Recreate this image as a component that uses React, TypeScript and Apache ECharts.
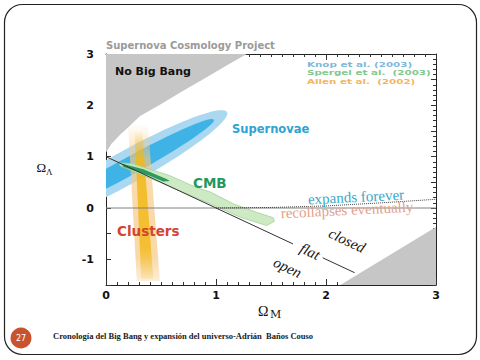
import React, { useEffect, useRef } from 'react';
import * as echarts from 'echarts';

// ---- data ----
const xRange = [0, 3];
const yRange = [-1.5, 3];
const xTickInterval = 1;
const yTickInterval = 0.5;

const noBigBangCurve = [
  [0, 1.08], [0.05, 1.25], [0.13, 1.43], [0.2, 1.57], [0.31, 1.79],
  [0.49, 2.01], [0.69, 2.27], [0.9, 2.53], [1.1, 2.78], [1.28, 3.0],
];
const noBigBangCorner = [0, 3];
const ageLimitRegion = [[2.13, -1.5], [3, -0.37], [3, -1.5]];

// ellipse: centre x, centre y, tip x, tip y, vertical half-thickness
const supernovaOuter = [0.2, 0.8, 1.1, 1.87, 0.37];
const supernovaInner = [0.2, 0.8, 0.98, 1.72, 0.2];

const clusterOuter = [[0.2, 1.65], [0.38, 1.65], [0.49, -1.42], [0.28, -1.42]];
const clusterCore = [[0.26, 1.5], [0.33, 1.5], [0.43, -1.38], [0.32, -1.38]];

const cmbOuter = [
  [0.12, 0.88], [0.25, 0.86], [0.58, 0.63], [0.82, 0.4], [0.95, 0.31],
  [1.16, 0.08], [1.37, -0.085], [1.52, -0.19], [1.53, -0.26], [1.46, -0.34],
  [1.22, -0.18], [0.95, 0.08], [0.49, 0.5], [0.13, 0.82],
];
const cmbInner = [
  [0.14, 0.865], [0.34, 0.755], [0.55, 0.565], [0.58, 0.525],
  [0.52, 0.515], [0.4, 0.625], [0.16, 0.8],
];

const flatLineUpper = [[0, 1], [1.7, -0.7]];
const flatLineLower = [[1.97, -0.97], [2.26, -1.26]];
const zeroLine = [[0, 0], [3, 0]];
const recollapseBoundary = [[1, 0], [1.5, 0.01], [2, 0.04], [2.5, 0.1], [3, 0.17]];

const titleText = 'Supernova Cosmology Project';
const legendLabels = ['Knop et al. (2003)', 'Spergel et al.  (2003)', 'Allen et al.  (2002)'];
const legendColors = ['#7db9d9', '#82c88f', '#f2b65e'];
const footerText = 'Cronología del Big Bang y expansión del universo-Adrián  Baños Couso';
const pageNumber = '27';

// ---- helpers ----
const polygonSeries = (pts: number[][], style: any) => ({
  type: 'custom',
  coordinateSystem: 'cartesian2d',
  xAxisIndex: 0,
  yAxisIndex: 0,
  clip: true,
  silent: true,
  data: [pts[0]],
  renderItem: (_p: any, api: any) => ({
    type: 'polygon',
    shape: { points: pts.map((p) => api.coord(p)) },
    style,
  }),
});

const ellipseSeries = (e: number[], style: any) => ({
  type: 'custom',
  coordinateSystem: 'cartesian2d',
  xAxisIndex: 0,
  yAxisIndex: 0,
  clip: true,
  silent: true,
  data: [[e[0], e[1]]],
  renderItem: (_p: any, api: any) => {
    const c = api.coord([e[0], e[1]]);
    const t = api.coord([e[2], e[3]]);
    const dx = t[0] - c[0];
    const dy = t[1] - c[1];
    const a = Math.hypot(dx, dy);
    const th = Math.atan2(dy, dx);
    const hpx = Math.abs(api.size([0, e[4]])[1]);
    const b = hpx * Math.abs(Math.cos(th));
    const pts: number[][] = [];
    for (let i = 0; i < 90; i++) {
      const u = (i / 90) * Math.PI * 2;
      const ex = a * Math.cos(u);
      const ey = b * Math.sin(u);
      pts.push([c[0] + ex * Math.cos(th) - ey * Math.sin(th), c[1] + ex * Math.sin(th) + ey * Math.cos(th)]);
    }
    return { type: 'polygon', shape: { points: pts }, style };
  },
});

const lineSeries = (pts: number[][], color: string, width: number, type: string = 'solid') => ({
  type: 'line',
  xAxisIndex: 0,
  yAxisIndex: 0,
  data: pts,
  showSymbol: false,
  symbol: 'none',
  silent: true,
  clip: true,
  lineStyle: { color, width, type },
  z: 5,
});

const SANS = '"DejaVu Sans", sans-serif';
const SERIF = '"Liberation Serif", serif';

const txt = (x: number, y: number, text: string, fill: string, font: string, extra: any = {}) => ({
  type: 'text',
  x,
  y,
  rotation: extra.rotation || 0,
  scaleX: extra.scaleX || 1,
  z: 100,
  style: {
    text,
    fill,
    font,
    align: extra.align || 'left',
    verticalAlign: 'middle',
  },
});

export default function App() {
  const ref = useRef<HTMLDivElement>(null);
  useEffect(() => {
    const chart = echarts.init(ref.current!, null, { renderer: 'svg' });
    const axisLineStyle = { show: true, onZero: false, lineStyle: { color: '#222', width: 1 } };
    const labelStyle = { fontFamily: SANS, fontWeight: 'bold', fontSize: 11, color: '#111' };

    const option: any = {
      animation: false,
      backgroundColor: '#fff',
      grid: { left: 106, top: 54, right: 44, bottom: 75, containLabel: false },
      xAxis: [
        {
          type: 'value', position: 'bottom', min: xRange[0], max: xRange[1], interval: xTickInterval,
          axisLine: axisLineStyle, splitLine: { show: false },
          axisTick: { show: true, inside: true, length: 6, lineStyle: { color: '#333' } },
          minorTick: { show: true, splitNumber: 10, length: 3, lineStyle: { color: '#333' } },
          axisLabel: { ...labelStyle, margin: 5 },
        },
        {
          type: 'value', position: 'top', min: xRange[0], max: xRange[1], interval: xTickInterval,
          axisLine: axisLineStyle, splitLine: { show: false },
          axisTick: { show: true, inside: true, length: 6, lineStyle: { color: '#333' } },
          minorTick: { show: true, splitNumber: 10, length: 3, lineStyle: { color: '#333' } },
          axisLabel: { show: false },
        },
      ],
      yAxis: [
        {
          type: 'value', position: 'left', min: yRange[0], max: yRange[1], interval: yTickInterval,
          axisLine: axisLineStyle, splitLine: { show: false },
          axisTick: { show: true, inside: true, length: 5, lineStyle: { color: '#333' } },
          minorTick: { show: false },
          axisLabel: {
            ...labelStyle, margin: 12,
            formatter: (v: number) => (Number.isInteger(v) ? String(v) : ''),
          },
        },
        {
          type: 'value', position: 'right', min: yRange[0], max: yRange[1], interval: yTickInterval,
          axisLine: axisLineStyle, splitLine: { show: false },
          axisTick: { show: true, inside: true, length: 5, lineStyle: { color: '#333' } },
          minorTick: { show: true, splitNumber: 5, length: 3, lineStyle: { color: '#333' } },
          axisLabel: { show: false },
        },
      ],
      series: [
        polygonSeries([noBigBangCorner, ...noBigBangCurve], { fill: '#c6c6c6' }),
        polygonSeries(ageLimitRegion, { fill: '#c6c6c6' }),
        ellipseSeries(supernovaOuter, { fill: '#aad8f1' }),
        ellipseSeries(supernovaInner, { fill: '#3fb3e6' }),
        polygonSeries(clusterOuter, {
          fill: new echarts.graphic.LinearGradient(0, 0, 0, 1, [
            { offset: 0, color: 'rgba(248,205,140,0)' },
            { offset: 0.22, color: 'rgba(247,200,130,0.65)' },
            { offset: 0.85, color: 'rgba(247,200,130,0.7)' },
            { offset: 1, color: 'rgba(247,200,130,0.3)' },
          ]),
        }),
        polygonSeries(clusterCore, {
          fill: new echarts.graphic.LinearGradient(0, 0, 0, 1, [
            { offset: 0, color: 'rgba(242,184,20,0)' },
            { offset: 0.2, color: 'rgba(242,184,20,0.85)' },
            { offset: 0.78, color: 'rgba(242,184,20,0.8)' },
            { offset: 1, color: 'rgba(242,184,20,0.15)' },
          ]),
        }),
        polygonSeries(cmbOuter, { fill: 'rgba(200,232,190,0.9)', stroke: '#a3d196', lineWidth: 0.8 }),
        polygonSeries(cmbInner, { fill: '#2a9a5e' }),
        lineSeries(zeroLine, '#808080', 1),
        lineSeries(recollapseBoundary, '#444', 1, 'dotted'),
        lineSeries(flatLineUpper, '#333', 1),
        lineSeries(flatLineLower, '#333', 1),
      ],
      graphic: [
        {
          type: 'rect', z: 100,
          shape: { x: 4.5, y: 4.5, width: 472, height: 350, r: 18 },
          style: { fill: 'none', stroke: '#222', lineWidth: 1.2 },
        },
        txt(106, 45, titleText, '#9a9a9a', `bold 10px ${SANS}`),
        ...legendLabels.map((l, i) =>
          txt(307, 64.5 + i * 8.5, l, legendColors[i], `bold 7.5px ${SANS}`, { scaleX: 1.38 })),
        txt(115, 71.5, 'No Big Bang', '#111', `bold 11px ${SANS}`),
        txt(232, 128.5, 'Supernovae', '#2ea3d3', `bold 11.5px ${SANS}`),
        txt(193, 182.5, 'CMB', '#1f9960', `bold 13.5px ${SANS}`),
        txt(117, 231, 'Clusters', '#d2452f', `bold 13.5px ${SANS}`),
        txt(356, 197, 'expands forever', '#39a8c9', `15px ${SERIF}`, { align: 'center', rotation: 0.05 }),
        txt(347, 210, 'recollapses eventually', '#e4a08c', `15px ${SERIF}`, { align: 'center', rotation: 0.05 }),
        txt(347, 240.5, 'closed', '#111', `italic 15px ${SERIF}`, { align: 'center', rotation: -0.44 }),
        txt(310, 251.5, 'flat', '#111', `italic 15px ${SERIF}`, { align: 'center', rotation: -0.44 }),
        txt(287.5, 267.5, 'open', '#111', `italic 15px ${SERIF}`, { align: 'center', rotation: -0.44 }),
        txt(36.5, 167, 'Ω', '#111', `13px ${SERIF}`),
        txt(46, 172, 'Λ', '#111', `9px ${SERIF}`),
        txt(258, 311, 'Ω', '#111', `14px ${SERIF}`),
        txt(270, 314, 'M', '#111', `11px "DejaVu Serif", serif`),
        {
          type: 'circle', z: 100,
          shape: { cx: 21, cy: 338, r: 10.5 },
          style: { fill: '#c9532f' },
        },
        txt(21, 338, pageNumber, '#fff', `8px ${SANS}`, { align: 'center' }),
        txt(53, 335.5, footerText, '#1a1a1a', `bold 8.5px ${SERIF}`),
      ],
    };
    chart.setOption(option);
    return () => chart.dispose();
  }, []);
  return (
    <div
      ref={ref}
      style={{ position: 'fixed', left: 0, top: 0, width: 480, height: 360, background: '#fff' }}
    />
  );
}
